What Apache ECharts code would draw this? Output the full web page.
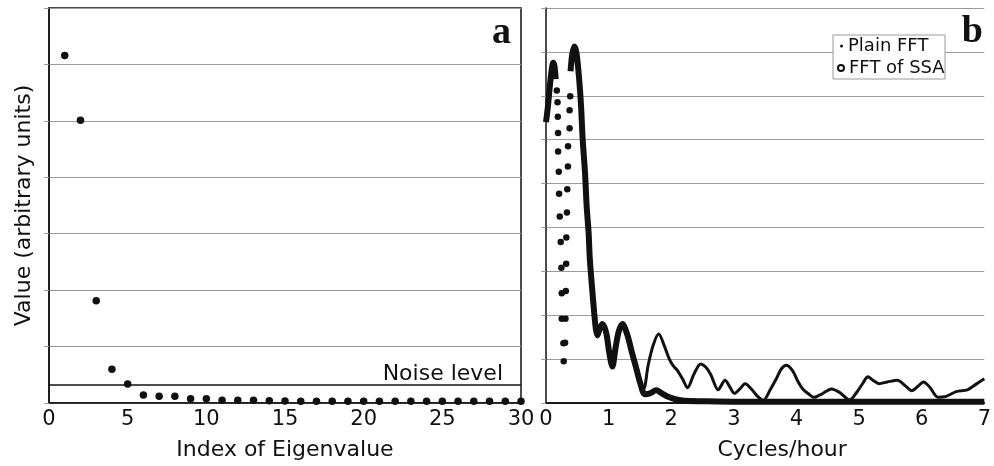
<!DOCTYPE html>
<html>
<head>
  <meta charset="utf-8">
  <title>Eigenvalues and spectra</title>
  <script src="https://cdn.jsdelivr.net/npm/echarts@6/dist/echarts.min.js"></script>
</head>
<body style="margin: 0; background: #fff">
  <div id="main" style="width: 994px; height: 466px"></div>
  <script>
    // panel a: eigenvalues by index
    const eigIndex = [1, 2, 3, 4, 5, 6, 7, 8, 9, 10, 11, 12, 13, 14, 15,
                      16, 17, 18, 19, 20, 21, 22, 23, 24, 25, 26, 27, 28, 29, 30];
    const eigValue = [6.16, 5.01, 1.81, 0.60, 0.335, 0.14, 0.12, 0.12, 0.076, 0.076,
                      0.05, 0.05, 0.05, 0.04, 0.035, 0.03, 0.03, 0.03, 0.03, 0.03,
                      0.03, 0.03, 0.03, 0.03, 0.03, 0.03, 0.03, 0.03, 0.03, 0.03];
    const noiseLevel = 0.32;

    // panel b: FFT of SSA (thick), drawn as first peak, sparse samples, main curve
    const ssaPeakFreq  = [0.00, 0.03, 0.06, 0.09, 0.115, 0.135, 0.155];
    const ssaPeakPower = [6.40, 6.75, 7.20, 7.58, 7.75, 7.68, 7.38];

    const ssaDotFreq  = [0.173, 0.184, 0.188, 0.193, 0.193, 0.204, 0.209, 0.220, 0.235, 0.246, 0.251, 0.251, 0.278, 0.283,
                         0.305, 0.311, 0.317, 0.322, 0.325, 0.334, 0.340, 0.350, 0.352, 0.377, 0.377, 0.387];
    const ssaDotPower = [7.12, 6.85, 6.52, 6.15, 5.73, 5.27, 4.77, 4.25, 3.67, 3.08, 2.50, 1.92, 1.36, 0.95,
                         1.37, 1.92, 2.55, 3.17, 3.77, 4.34, 4.87, 5.39, 5.85, 6.26, 6.67, 6.99];

    const ssaFreq  = [0.392, 0.42, 0.455, 0.49, 0.534, 0.56, 0.586, 0.623, 0.649, 0.68, 0.70, 0.733, 0.769, 0.796,
                      0.82, 0.86, 0.90, 0.96, 1.01, 1.06, 1.11, 1.16, 1.22, 1.30, 1.37, 1.44, 1.50, 1.58,
                      1.66, 1.76, 1.85, 1.95, 2.08, 2.21, 2.5, 3.0, 4.0, 5.0, 6.0, 7.0];
    const ssaPower = [7.56, 7.95, 8.12, 7.95, 7.30, 6.76, 6.00, 5.25, 4.49, 3.89, 3.28, 2.67, 2.07, 1.69,
                      1.54, 1.70, 1.80, 1.61, 1.15, 0.83, 1.25, 1.62, 1.80, 1.55, 1.16, 0.80, 0.48, 0.20,
                      0.22, 0.29, 0.22, 0.14, 0.08, 0.05, 0.04, 0.03, 0.03, 0.03, 0.03, 0.03];

    // plain FFT (thin), where it leaves the SSA curve
    const fftFreq  = [1.37, 1.50, 1.56, 1.63, 1.71, 1.80, 1.89, 1.97, 2.03, 2.10, 2.18, 2.26, 2.36, 2.47,
                      2.55, 2.63, 2.75, 2.86, 2.93, 3.01, 3.10, 3.18, 3.28, 3.36, 3.47, 3.58, 3.68, 3.76,
                      3.84, 3.94, 4.02, 4.10, 4.20, 4.28, 4.41, 4.56, 4.69, 4.85, 4.96, 5.06, 5.14, 5.22,
                      5.32, 5.45, 5.61, 5.74, 5.84, 5.94, 6.03, 6.13, 6.26, 6.39, 6.55, 6.73, 6.87, 7.0];
    const fftPower = [1.16, 0.48, 0.32, 0.85, 1.31, 1.57, 1.30, 1.00, 0.85, 0.74, 0.55, 0.35, 0.65, 0.89,
                      0.82, 0.65, 0.30, 0.52, 0.38, 0.22, 0.33, 0.44, 0.32, 0.18, 0.06, 0.30, 0.56, 0.78,
                      0.86, 0.73, 0.50, 0.32, 0.20, 0.13, 0.21, 0.32, 0.24, 0.07, 0.24, 0.45, 0.60, 0.52,
                      0.44, 0.48, 0.52, 0.39, 0.28, 0.38, 0.48, 0.36, 0.13, 0.15, 0.26, 0.30, 0.43, 0.55];

    const pairs = (xs, ys) => xs.map((x, i) => [x, ys[i]]);
    const ink = '#111';
    const grey = '#9a9a9a';
    const font = 'DejaVu Sans';

    const yAxisBase = {
      type: 'value',
      interval: 1,
      axisLabel: { show: false },
      axisLine: { show: true, lineStyle: { color: ink, width: 1.5 } },
      axisTick: { show: true, length: 5, lineStyle: { color: grey } },
      splitLine: { show: true, lineStyle: { color: grey, width: 1 } }
    };
    const xAxisBase = {
      type: 'value',
      axisLine: { show: true, onZero: false, lineStyle: { color: ink, width: 1.5 } },
      axisTick: { show: false },
      axisLabel: { fontSize: 21, color: ink, fontFamily: font, margin: 6 },
      splitLine: { show: false },
      nameLocation: 'middle',
      nameGap: 36,
      nameTextStyle: { fontSize: 22, color: ink, fontFamily: font }
    };

    const chart = echarts.init(document.getElementById('main'));
    chart.setOption({
      animation: false,
      backgroundColor: '#fff',
      textStyle: { fontFamily: font },
      title: [
        { text: 'a', right: 483, top: 14, padding: 0,
          textStyle: { fontFamily: 'Liberation Serif', fontWeight: 'bold', fontSize: 38, color: ink } },
        { text: 'b', right: 11, top: 13, padding: 0,
          textStyle: { fontFamily: 'Liberation Serif', fontWeight: 'bold', fontSize: 38, color: ink } }
      ],
      legend: [
        { data: [{ name: 'Plain FFT', icon: 'circle', itemStyle: { color: ink, opacity: 1 } }],
          left: 840, top: 37, padding: 0, itemWidth: 3, itemHeight: 3, z: 10,
          selectedMode: false, textStyle: { fontSize: 18, color: ink, fontFamily: font } },
        { data: [{ name: 'FFT of SSA', icon: 'emptyCircle',
                   itemStyle: { color: ink, borderColor: ink, borderWidth: 1.5, opacity: 1 } }],
          left: 837, top: 59, padding: 0, itemWidth: 6, itemHeight: 6, z: 10,
          selectedMode: false, textStyle: { fontSize: 18, color: ink, fontFamily: font } }
      ],
      graphic: [{
        type: 'rect', z: 3,
        shape: { x: 833, y: 35, width: 112, height: 44 },
        style: { fill: '#fff', stroke: grey, lineWidth: 1 }
      }],
      grid: [
        { left: 49, right: 473, top: 8, bottom: 61, show: true, borderColor: ink, borderWidth: 1.5 },
        { left: 546, right: 1, top: 8, bottom: 62 }
      ],
      xAxis: [
        Object.assign({}, xAxisBase, { gridIndex: 0, min: 0, max: 30, interval: 5, name: 'Index of Eigenvalue' }),
        Object.assign({}, xAxisBase, { gridIndex: 1, min: 0, max: 7, interval: 1, name: 'Cycles/hour',
          nameTextStyle: { fontSize: 22, color: ink, fontFamily: font, padding: [0, 0, 0, 34] } }),
        { type: 'value', gridIndex: 1, position: 'top', min: 0, max: 7,
          axisLine: { show: true, lineStyle: { color: ink, width: 1.5 } },
          axisTick: { show: false }, axisLabel: { show: false }, splitLine: { show: false } }
      ],
      yAxis: [
        Object.assign({}, yAxisBase, { gridIndex: 0, min: 0, max: 7,
          name: 'Value (arbitrary units)', nameLocation: 'middle', nameGap: 14,
          nameTextStyle: { fontSize: 22, color: ink, fontFamily: font } }),
        Object.assign({}, yAxisBase, { gridIndex: 1, min: 0, max: 9 })
      ],
      series: [
        {
          name: 'Eigenvalue', type: 'scatter', xAxisIndex: 0, yAxisIndex: 0,
          symbolSize: 7.5, clip: false, itemStyle: { color: ink, opacity: 1 },
          data: pairs(eigIndex, eigValue),
          markLine: {
            silent: true, symbol: 'none',
            lineStyle: { color: ink, width: 1.5, type: 'solid' },
            label: { show: true, position: 'insideEndTop', formatter: 'Noise level',
                     fontSize: 22, color: ink, fontFamily: font, distance: [18, 0] },
            data: [{ yAxis: noiseLevel }]
          }
        },
        {
          name: 'Plain FFT', type: 'line', xAxisIndex: 1, yAxisIndex: 1,
          showSymbol: false, smooth: 0.3, itemStyle: { color: ink },
          lineStyle: { color: ink, width: 3 },
          data: pairs(fftFreq, fftPower)
        },
        {
          name: 'FFT of SSA', type: 'line', xAxisIndex: 1, yAxisIndex: 1,
          showSymbol: false, smooth: 0.3, itemStyle: { color: ink },
          lineStyle: { color: ink, width: 6 },
          data: pairs(ssaPeakFreq, ssaPeakPower)
        },
        {
          name: 'FFT of SSA', type: 'line', xAxisIndex: 1, yAxisIndex: 1,
          showSymbol: false, smooth: 0.3, itemStyle: { color: ink },
          lineStyle: { color: ink, width: 6 },
          data: pairs(ssaFreq, ssaPower)
        },
        {
          name: 'FFT of SSA', type: 'scatter', xAxisIndex: 1, yAxisIndex: 1,
          symbolSize: 6.5, itemStyle: { color: ink, opacity: 1 },
          data: pairs(ssaDotFreq, ssaDotPower)
        }
      ]
    });
  </script>
</body>
</html>
